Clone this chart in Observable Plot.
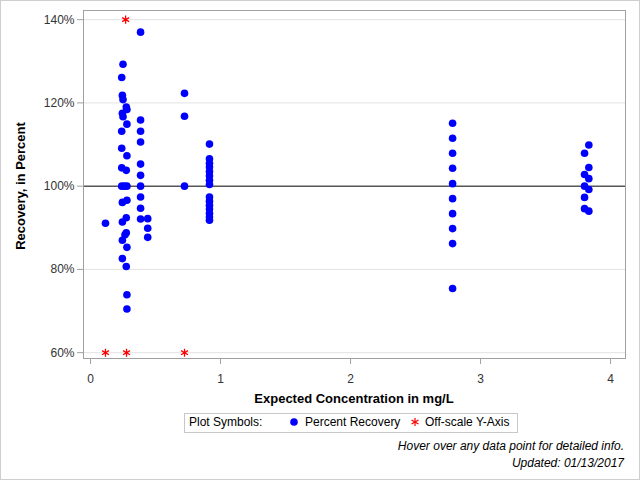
<!DOCTYPE html>
<html><head><meta charset="utf-8">
<script src="https://cdn.jsdelivr.net/npm/d3@7"></script>
<script src="https://cdn.jsdelivr.net/npm/@observablehq/plot@0.6"></script>
<style>
body{margin:0;background:#fff;font-family:"Liberation Sans",Arial,sans-serif;}
#wrap{position:relative;width:640px;height:480px;overflow:hidden;background:#fff;}
#border{position:absolute;left:0;top:0;width:638px;height:478px;border:1px solid #cfcfcf;pointer-events:none;}
#chart{position:absolute;left:0;top:0;}
.ytitle{position:absolute;left:20px;top:186px;transform:translate(-50%,-50%) rotate(-90deg);white-space:nowrap;font-weight:bold;font-size:13px;color:#000;}
.xtitle{position:absolute;left:354px;top:398px;transform:translate(-50%,-50%);white-space:nowrap;font-weight:bold;font-size:13px;color:#000;}
#legend{position:absolute;left:184px;top:413px;width:332px;height:18px;border:1px solid #c8c8c8;}
.lt{position:absolute;top:422px;transform:translateY(-50%);font-size:12px;white-space:nowrap;color:#000;}
.lsym{position:absolute;}
.foot{position:absolute;right:16px;font-style:italic;font-size:12px;white-space:nowrap;color:#000;transform:translateY(-50%);}
</style></head><body>
<div id="wrap">
  <div id="chart"></div>
  <div class="ytitle">Recovery, in Percent</div>
  <div class="xtitle">Expected Concentration in mg/L</div>
  <div id="legend"></div>
  <div class="lt" style="left:189px">Plot Symbols:</div>
  <svg class="lsym" style="left:289px;top:417px" width="10" height="10"><circle cx="5" cy="5" r="3.8" fill="#0000ff"/></svg>
  <div class="lt" style="left:305px">Percent Recovery</div>
  <svg class="lsym" style="left:410px;top:417px" width="10" height="10"><g stroke="#ff0000" stroke-width="1.2"><line x1="5" y1="1" x2="5" y2="9"/><line x1="1.5" y1="3" x2="8.5" y2="7"/><line x1="1.5" y1="7" x2="8.5" y2="3"/></g></svg>
  <div class="lt" style="left:425px">Off-scale Y-Axis</div>
  <div class="foot" style="top:446px">Hover over any data point for detailed info.</div>
  <div class="foot" style="top:463px">Updated: 01/13/2017</div>
  <div id="border"></div>
</div>
<script>
// Expected concentration (mg/L) of each in-scale sample
const conc = [
  0.25,0.24,0.245,0.25,0.275,0.28,0.245,0.25,0.28,0.24,0.24,0.28,0.24,0.275,0.24,0.26,0.28,0.28,0.245,0.275,0.245,0.275,0.265,0.245,0.28,0.245,0.275,0.28,0.28,
  0.385,0.385,0.385,0.385,0.385,0.385,0.385,0.385,0.385,0.385,
  0.44,0.44,0.44,
  0.115,
  0.723,0.723,0.723,
  0.915,0.915,0.915,0.915,0.915,0.915,0.915,0.915,0.915,0.915,0.915,0.915,0.915,0.915,0.915,
  2.785,2.785,2.785,2.785,2.785,2.785,2.785,2.785,2.785,2.785,
  3.833,3.80,3.833,3.80,3.833,3.80,3.833,3.80,3.80,3.833
];
// Percent recovery of each in-scale sample
const recovery = [
  129.3,126.1,121.8,120.8,119.0,118.4,117.5,116.7,114.9,113.2,109.1,107.3,104.4,103.8,100,100,100,96.6,96.1,92.4,91.4,88.8,88.3,87.0,85.3,82.6,80.7,73.9,70.5,
  137.0,115.9,113.2,110.6,105.3,102.6,100,97.4,94.7,92.1,
  92.2,89.9,87.7,
  91.1,
  122.3,116.8,100,
  110.1,106.6,105.5,104.6,103.5,102.5,101.4,100.4,97.4,96.4,95.4,94.5,93.5,92.6,91.8,
  115.1,111.5,107.9,104.3,100.6,97.0,93.4,89.8,86.2,75.4,
  109.9,107.9,104.5,102.8,101.8,100,99.2,97.3,94.6,94.0
];
// Off-scale samples, drawn at the axis limit
const offConc = [0.27, 0.115, 0.277, 0.723];
const offRecovery = [140, 60, 60, 60];

const xTicks = [0, 1, 2, 3, 4];
const yTicks = [60, 80, 100, 120, 140];
const gridLines = [60, 80, 120, 140];
const refLine = [100];

const points = conc.map((c, i) => ({conc: c, rec: recovery[i]}));
const offPoints = offConc.map((c, i) => ({conc: c, rec: offRecovery[i]}));

const chart = Plot.plot({
  width: 640, height: 392,
  marginLeft: 83, marginRight: 15, marginTop: 10, marginBottom: 34,
  style: {fontFamily: "'Liberation Sans', Arial, sans-serif", fontSize: "12px", background: "transparent"},
  x: {domain: [-0.054, 4.115]},
  y: {domain: [58.6, 142.2]},
  marks: [
    Plot.ruleY(gridLines, {stroke: "#e2e2e2"}),
    Plot.ruleY(refLine, {stroke: "#000"}),
    Plot.frame({stroke: "#a0a0a0"}),
    Plot.axisX({ticks: xTicks, tickSize: 6, tickPadding: 10, label: null, stroke: "#a0a0a0", fill: "#333", tickFormat: d => String(d)}),
    Plot.axisY({ticks: yTicks, tickSize: 6, tickPadding: 3, label: null, stroke: "#a0a0a0", fill: "#333", tickFormat: d => d + "%"}),
    Plot.dot(points, {x: "conc", y: "rec", r: 3.8, fill: "#0000ff", stroke: "none"}),
    Plot.dot(offPoints, {x: "conc", y: "rec", symbol: "asterisk", r: 3.8, stroke: "#ff0000", strokeWidth: 1.3})
  ]
});
document.getElementById("chart").appendChild(chart);
</script>
</body></html>
